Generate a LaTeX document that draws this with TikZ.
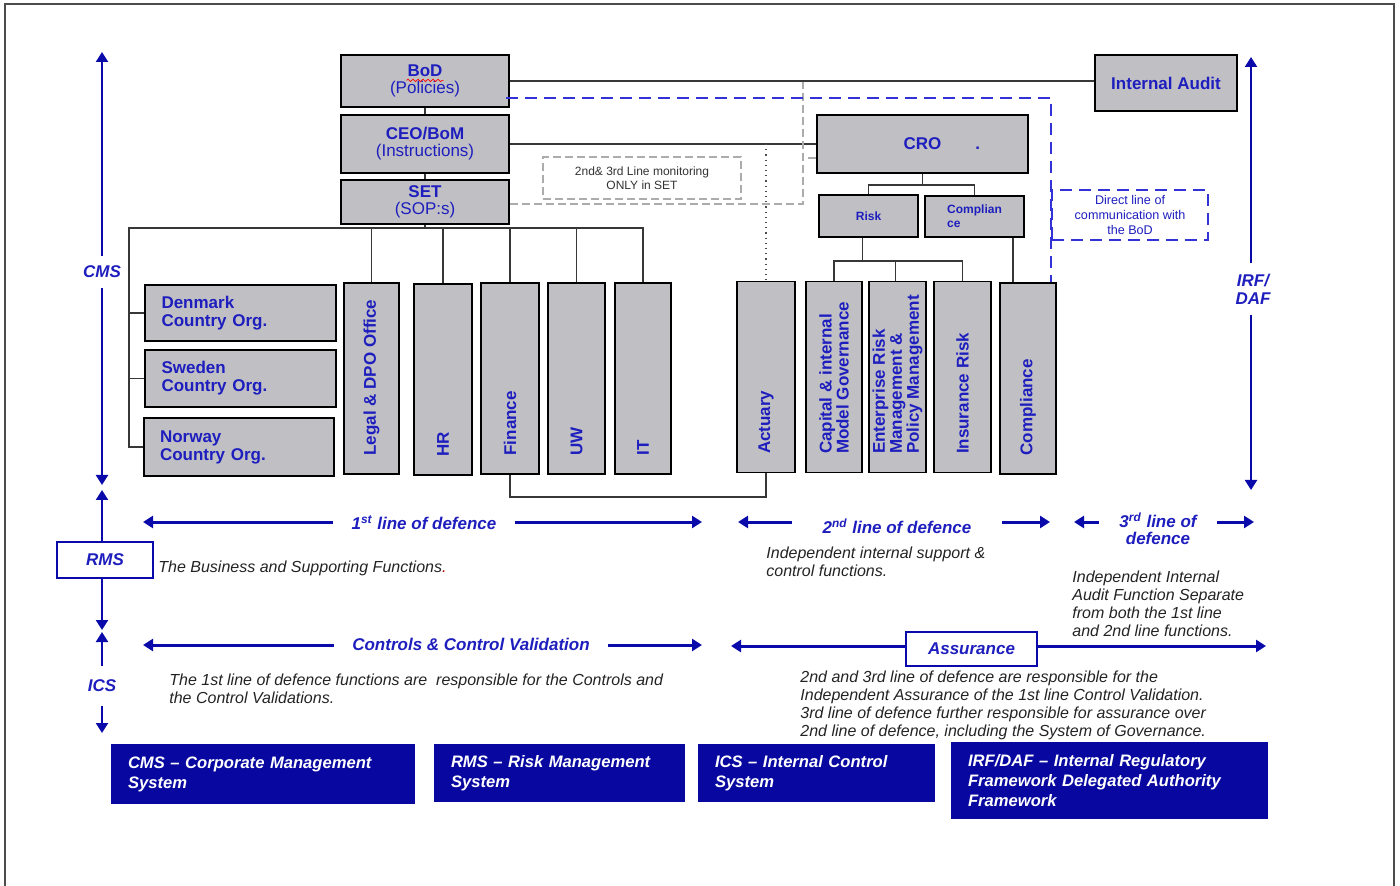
\documentclass[tikz,border=0pt]{standalone}
\usepackage{fontspec}
\setmainfont{Liberation Sans}
\usetikzlibrary{arrows.meta,decorations.pathmorphing}
\definecolor{boxgray}{RGB}{192,192,196}
\definecolor{labelblue}{RGB}{30,30,190}
\definecolor{lineblue}{RGB}{10,10,170}
\definecolor{dashblue}{RGB}{50,50,215}
\definecolor{navybox}{RGB}{8,8,160}
\definecolor{notegray}{RGB}{35,35,35}
\definecolor{linkgray}{RGB}{55,55,55}
\tikzset{%
  >={Triangle[length=5pt,width=6pt]},
  % Specifications for style of nodes:
        orgbox/.style = {rectangle, draw=black, line width=0.9pt, fill=boxgray,
                         text=labelblue, inner sep=0pt, align=center,
                         font=\fontsize{8.5}{8.5}\selectfont},
       boldbox/.style = {orgbox, font=\bfseries\fontsize{8.5}{8.5}\selectfont},
      smallbox/.style = {orgbox, font=\bfseries\fontsize{6}{7}\selectfont},
    countrybox/.style = {boldbox, align=left, text width=79pt, inner xsep=8pt,
                         minimum width=95.5pt, font=\bfseries\fontsize{8.5}{9}\selectfont},
          vbox/.style = {orgbox, minimum height=95.5pt},
         vtext/.style = {rotate=90, anchor=west, inner sep=0pt, text=labelblue,
                         align=left, font=\bfseries\fontsize{8.5}{8.5}\selectfont},
      framebox/.style = {rectangle, draw=lineblue, line width=0.9pt, fill=white,
                         text=labelblue, inner sep=0pt,
                         font=\bfseries\itshape\fontsize{8.5}{9}\selectfont},
        defbox/.style = {rectangle, fill=navybox, text=white, align=left,
                         inner xsep=8.5pt, font=\bfseries\itshape\fontsize{8.3}{10}\selectfont},
  % Specifications for style of lines and texts:
          link/.style = {draw=linkgray, line width=0.8pt},
      greydash/.style = {draw=gray!65, line width=0.6pt, dash pattern=on 4pt off 2pt},
      bluedash/.style = {draw=dashblue, line width=0.8pt, dash pattern=on 6pt off 3.5pt},
     bluearrow/.style = {draw=lineblue, line width=1.5pt},
      uparrow/.style = {draw=lineblue, line width=1.1pt},
        vlabel/.style = {text=labelblue, inner xsep=0pt, inner ysep=5pt, align=center,
                         font=\bfseries\itshape\fontsize{8.5}{9}\selectfont},
     linelabel/.style = {text=labelblue, inner xsep=9pt, inner ysep=0pt, align=center,
                         font=\bfseries\itshape\fontsize{8.5}{9}\selectfont},
          note/.style = {text=notegray, inner sep=0pt, align=left,
                         font=\itshape\fontsize{8}{9}\selectfont},
}

\begin{document}
\begin{tikzpicture}[x=0.5pt, y=-0.5pt]
    \useasboundingbox (0,0) rectangle (1400,886);
    \draw[black!70, line width=0.8pt] (5,886) -- (5,4) -- (1394,4) -- (1394,886);

    % governance
    \node (bod) [orgbox, minimum width=84pt, minimum height=26pt] at (425,81) {\textbf{BoD}\\(Policies)};
    \draw[red, line width=0.35pt, decorate, decoration={snake, amplitude=0.6pt, segment length=2.5pt}]
        ([xshift=-9.25pt, yshift=0.3pt]bod.center) -- ++(18.5pt,0);
    \node (ceo) [orgbox, minimum width=84pt, minimum height=29pt] at (425,144) {\textbf{CEO/BoM}\\(Instructions)};
    \node (set) [orgbox, minimum width=84pt, minimum height=22pt] at (425,202) {\textbf{SET}\\(SOP:s)};
    \node (audit) [boldbox, minimum width=71pt, minimum height=28pt] at (1166,83) {Internal Audit};
    \node (cro) [boldbox, minimum width=105.5pt, minimum height=29pt] at (922.5,144) {\phantom{.}\hspace{17pt}CRO\hspace{17pt}.};
    \node (risk) [smallbox, minimum width=49.5pt, minimum height=21pt] at (868.5,216) {Risk};
    \node (compl) [smallbox, align=left, minimum width=49.5pt, minimum height=20.5pt] at (974.5,216.5) {Complian\\ce};

    \node (monitor) [greydash, rectangle, minimum width=99pt, minimum height=21pt, align=center,
        text=black!80, font=\fontsize{6}{7}\selectfont] at (642,178) {2nd\& 3rd Line monitoring\\ONLY in SET};
    \node (direct) [bluedash, rectangle, minimum width=78pt, minimum height=25pt, align=center, inner sep=0pt,
        text=labelblue, font=\fontsize{6.3}{7.5}\selectfont] at (1130,215) {Direct line of\\communication with\\the BoD};

    % country organisations
    \node (denmark) [countrybox, minimum height=28pt] at (240.5,313) {Denmark\\Country Org.};
    \node (sweden) [countrybox, minimum height=28.5pt] at (240.5,378.5) {Sweden\\Country Org.};
    \node (norway) [countrybox, minimum width=95pt, minimum height=29pt] at (239,447) {Norway\\Country Org.};

    % functions
    \node (legal) [vbox, minimum width=27.5pt] at (371.5,378.5) {};
    \node (hr) [vbox, minimum width=29pt] at (443,379.5) {};
    \node (finance) [vbox, minimum width=29pt] at (510,378.5) {};
    \node (uw) [vbox, minimum width=28.5pt] at (576.5,378.5) {};
    \node (it) [vbox, minimum width=28pt] at (643,378.5) {};
    \node (actuary) [vbox, minimum width=29pt] at (766,377) {};
    \node (capital) [vbox, minimum width=28pt] at (834,377) {};
    \node (erm) [vbox, minimum width=28.5pt] at (897.5,377) {};
    \node (insrisk) [vbox, minimum width=28.5pt] at (962.5,377) {};
    \node (compliance) [vbox, minimum width=28pt] at (1028,378.5) {};

    \node [vtext] at ([yshift=9.5pt]legal.south) {Legal \& DPO Office};
    \node [vtext] at ([yshift=9.5pt]hr.south) {HR};
    \node [vtext] at ([yshift=9.5pt]finance.south) {Finance};
    \node [vtext] at ([yshift=9.5pt]uw.south) {UW};
    \node [vtext] at ([yshift=9.5pt]it.south) {IT};
    \node [vtext] at ([yshift=9.5pt]actuary.south) {Actuary};
    \node [vtext] at ([yshift=9.5pt]capital.south) {Capital \& internal\\Model Governance};
    \node [vtext] at ([yshift=9.5pt]erm.south) {Enterprise Risk\\Management \&\\Policy Management};
    \node [vtext] at ([yshift=9.5pt]insrisk.south) {Insurance Risk};
    \node [vtext] at ([yshift=9.5pt]compliance.south) {Compliance};

    % reporting lines
    \draw[link] (bod.south) -- (ceo.north);
    \draw[link] (ceo.south) -- (set.north);
    \draw[link] (bod.east) -- (bod.east -| audit.west);
    \draw[link] (ceo.east) -- (cro.west);
    \draw[black!70, line width=0.6pt, dotted] (actuary.north |- ceo.east) -- (actuary.north);

    \coordinate (setbus) at (425,228);
    \coordinate (orgbus) at (129,228);
    \draw[link] (set.south) -- (setbus);
    \draw[link] (it.north) |- (orgbus) |- (norway.west);
    \foreach \f in {legal,hr,finance,uw}
        \draw[link] (\f.north) -- (\f.north |- setbus);
    \foreach \c in {denmark,sweden}
        \draw[link] (\c.west) -- (\c.west -| orgbus);
    \draw[link] (finance.south) -- ++(0,-11pt) -| (actuary.south);

    \draw[link] (cro.south) -- ++(0,-5.5pt) coordinate (crobus);
    \draw[link] (risk.north) |- (crobus) -| (compl.north);
    \draw[link] ([xshift=-3pt]risk.south) -- ++(0,-11.5pt) coordinate (riskbus);
    \draw[link] (capital.north) |- (riskbus) -| (insrisk.north);
    \draw[link] ([xshift=-1pt]erm.north) -- ([xshift=-1pt]erm.north |- riskbus);
    \draw[link] ([xshift=-7.5pt]compliance.north) -- ([xshift=-7.5pt]compliance.north |- compl.south);

    \coordinate (greytop) at (803,82);
    \draw[greydash] ([yshift=-1pt]set.east) -| (greytop);
    \draw[greydash] ([yshift=-7pt]cro.west) -- ([yshift=-7pt]cro.west -| greytop);
    \coordinate (bluecorner) at (1051,98);
    \draw[bluedash] ([xshift=-2pt, yshift=-8.5pt]bod.east) -- (bluecorner) -- (bluecorner |- compliance.north);

    % management systems
    \coordinate (cmstop) at (102,52);
    \coordinate (cmsbot) at (102,485);
    \node (cmslab) [vlabel] at (102,272) {CMS};
    \draw[->, uparrow] (cmslab.north) -- (cmstop);
    \draw[->, uparrow] (cmslab.south) -- (cmsbot);
    \coordinate (rmstop) at (102,490);
    \coordinate (rmsbot) at (102,630);
    \node (rmsbox) [framebox, minimum width=48pt, minimum height=18pt] at (105,560) {RMS};
    \draw[->, uparrow] (rmstop |- rmsbox.north) -- (rmstop);
    \draw[->, uparrow] (rmsbot |- rmsbox.south) -- (rmsbot);
    \coordinate (icstop) at (102,632);
    \coordinate (icsbot) at (102,733);
    \node (icslab) [vlabel, inner ysep=7pt] at (102,686) {ICS};
    \draw[->, uparrow] (icslab.north) -- (icstop);
    \draw[->, uparrow] (icslab.south) -- (icsbot);
    \coordinate (irftop) at (1251,57);
    \coordinate (irfbot) at (1251,490);
    \node (irflab) [vlabel] at (1253,289) {IRF/\\DAF};
    \draw[->, uparrow] (irftop |- irflab.north) -- (irftop);
    \draw[->, uparrow] (irfbot |- irflab.south) -- (irfbot);

    % lines of defence
    \coordinate (firstl) at (143,522);
    \coordinate (firstr) at (702,522);
    \node (first) [linelabel] at (424,523) {1\textsuperscript{st} line of defence};
    \draw[->, bluearrow] (firstl -| first.west) -- (firstl);
    \draw[->, bluearrow] (firstr -| first.east) -- (firstr);
    \coordinate (secondl) at (738,522);
    \coordinate (secondr) at (1050,522);
    \node (second) [linelabel, inner xsep=15pt] at (897,526) {2\textsuperscript{nd} line of defence};
    \draw[->, bluearrow] (secondl -| second.west) -- (secondl);
    \draw[->, bluearrow] (secondr -| second.east) -- (secondr);
    \coordinate (thirdl) at (1074,522);
    \coordinate (thirdr) at (1254,522);
    \node (third) [linelabel, inner xsep=10pt] at (1158,520) {3\textsuperscript{rd} line of};
    \node [linelabel, anchor=north, inner ysep=2pt] at (third.south) {defence};
    \draw[->, bluearrow] (thirdl -| third.west) -- (thirdl);
    \draw[->, bluearrow] (thirdr -| third.east) -- (thirdr);

    \node (business) [note, anchor=west] at (158,568) {The Business and Supporting Functions\textcolor{red!70!black}{.}};
    \node (support) [note, anchor=north west] at (766,547) {Independent internal support \&\\control functions.};
    \node (separate) [note, anchor=north west] at (1072,571) {Independent Internal\\Audit Function Separate\\from both the 1st line\\and 2nd line functions.};

    % controls and assurance
    \coordinate (ctrll) at (143,645);
    \coordinate (ctrlr) at (702,645);
    \node (ctrl) [linelabel] at (471,644) {Controls \& Control Validation};
    \draw[->, bluearrow] (ctrll -| ctrl.west) -- (ctrll);
    \draw[->, bluearrow] (ctrlr -| ctrl.east) -- (ctrlr);
    \coordinate (assurel) at (731,646);
    \coordinate (assurer) at (1266,646);
    \node (assure) [framebox, minimum width=65.5pt, minimum height=17pt] at (971.5,649) {Assurance};
    \draw[->, bluearrow] (assurel -| assure.west) -- (assurel);
    \draw[->, bluearrow] (assurer -| assure.east) -- (assurer);

    \node (ctrlnote) [note, anchor=north west] at (169,674) {The 1st line of defence functions are\ \ responsible for the Controls and\\the Control Validations.};
    \node (assurenote) [note, anchor=north west] at (800,671) {2nd and 3rd line of defence are responsible for the\\Independent Assurance of the 1st line Control Validation.\\3rd line of defence further responsible for assurance over\\2nd line of defence, including the System of Governance.};

    % definitions
    \node (cmsdef) [defbox, text width=135pt, minimum height=30pt] at (263,774) {CMS -- Corporate Management\\System};
    \node (rmsdef) [defbox, text width=108.5pt, minimum height=29pt] at (559.5,773) {RMS -- Risk Management\\System};
    \node (icsdef) [defbox, text width=101.5pt, minimum height=29pt] at (816.5,773) {ICS -- Internal Control\\System};
    \node (irfdef) [defbox, text width=141.5pt, minimum height=38.5pt] at (1109.5,780.5) {IRF/DAF -- Internal Regulatory\\Framework Delegated Authority\\Framework};
\end{tikzpicture}
\end{document}
